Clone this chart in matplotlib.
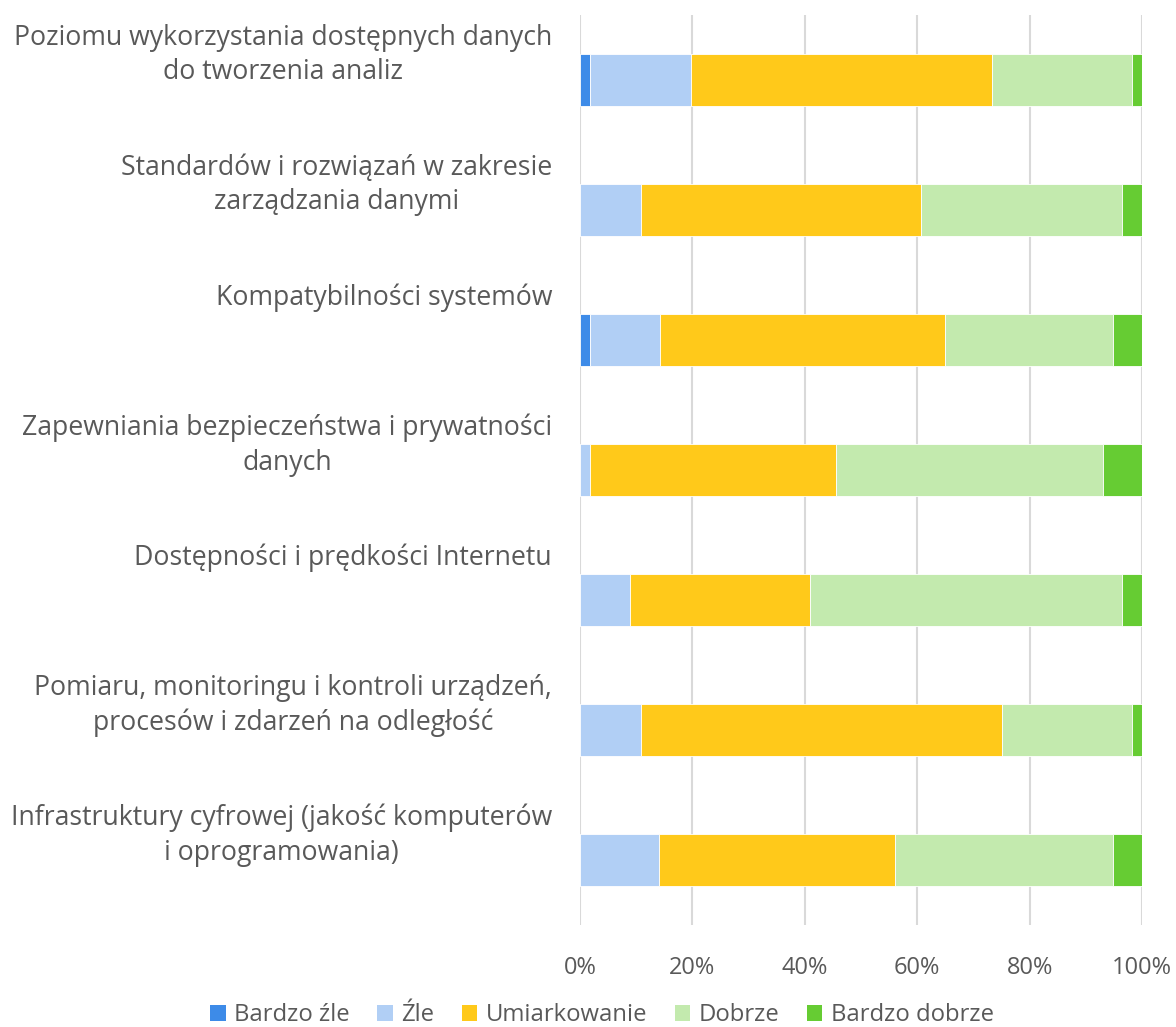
import matplotlib
matplotlib.use("Agg")
import matplotlib.pyplot as plt
from matplotlib.patches import Patch
import matplotlib.transforms as mtransforms
import numpy as np

plt.rcParams['font.family'] = ['Open Sans', 'DejaVu Sans']

categories = [
    "Poziomu wykorzystania dostępnych danych\ndo tworzenia analiz",
    "Standardów i rozwiązań w zakresie\nzarządzania danymi",
    "Kompatybilności systemów",
    "Zapewniania bezpieczeństwa i prywatności\ndanych",
    "Dostępności i prędkości Internetu",
    "Pomiaru, monitoringu i kontroli urządzeń,\nprocesów i zdarzeń na odległość",
    "Infrastruktury cyfrowej (jakość komputerów\ni oprogramowania)",
]
series_names = ["Bardzo źle", "Źle", "Umiarkowanie", "Dobrze", "Bardzo dobrze"]
bardzo_zle = [1.8, 0.0, 1.8, 0.0, 0.0, 0.0, 0.0]
zle = [17.9, 10.8, 12.4, 1.7, 8.9, 10.8, 14.1]
umiarkowanie = [53.6, 49.8, 50.8, 43.9, 32.1, 64.2, 41.9]
dobrze = [25.0, 35.9, 29.9, 47.4, 55.5, 23.2, 38.8]
bardzo_dobrze = [1.8, 3.5, 5.2, 7.0, 3.5, 1.8, 5.2]
xticks = [0, 20, 40, 60, 80, 100]
xtick_labels = ["0%", "20%", "40%", "60%", "80%", "100%"]

colors = ["#3D8BE8", "#B1CFF5", "#FFC91A", "#C3EAAE", "#66CC33"]
text_color = "#595959"

fig = plt.figure(figsize=(11.76, 10.27), dpi=100)
ax = fig.add_axes([580/1176, 1 - 925/1027, 562/1176, 910/1027])

data = [bardzo_zle, zle, umiarkowanie, dobrze, bardzo_dobrze]
total = np.sum(np.array(data), axis=0)
y = np.arange(len(categories))
left = np.zeros(len(categories))
for vals, col, name in zip(data, colors, series_names):
    w = np.array(vals) / total * 100
    ax.barh(y, w, left=left, height=0.4, color=col, edgecolor="white",
            linewidth=0.6, label=name, zorder=3)
    left = left + w

ax.set_xlim(0, 100)
ax.set_ylim(len(categories) - 0.5, -0.5)
ax.set_xticks(xticks)
ax.set_xticklabels(xtick_labels, color=text_color, fontsize=17)
ax.tick_params(axis='x', length=0, pad=22)
ax.set_yticks([])
for s in ax.spines.values():
    s.set_visible(False)
ax.grid(axis='x', color="#D9D9D9", linewidth=1.5, zorder=0)

for i, lab in enumerate(categories):
    trans = mtransforms.offset_copy(ax.transData, fig=fig, x=-28, y=-3, units='dots')
    ax.text(0, i - 0.5 + 0.045, lab, transform=trans, ha='right', va='top',
            multialignment='center', fontsize=19.2, color=text_color,
            linespacing=1.3, clip_on=False)

handles = [Patch(facecolor=c, edgecolor='none') for c in colors]
leg = fig.legend(handles, series_names, loc='center', bbox_to_anchor=(602/1176, 1 - 1015/1027),
                 ncol=5, frameon=False, fontsize=17.2, handlelength=0.65, handleheight=0.65,
                 handletextpad=0.35, columnspacing=1.15)
for t in leg.get_texts():
    t.set_color(text_color)

fig.savefig("out.png", dpi=100, facecolor="white")
